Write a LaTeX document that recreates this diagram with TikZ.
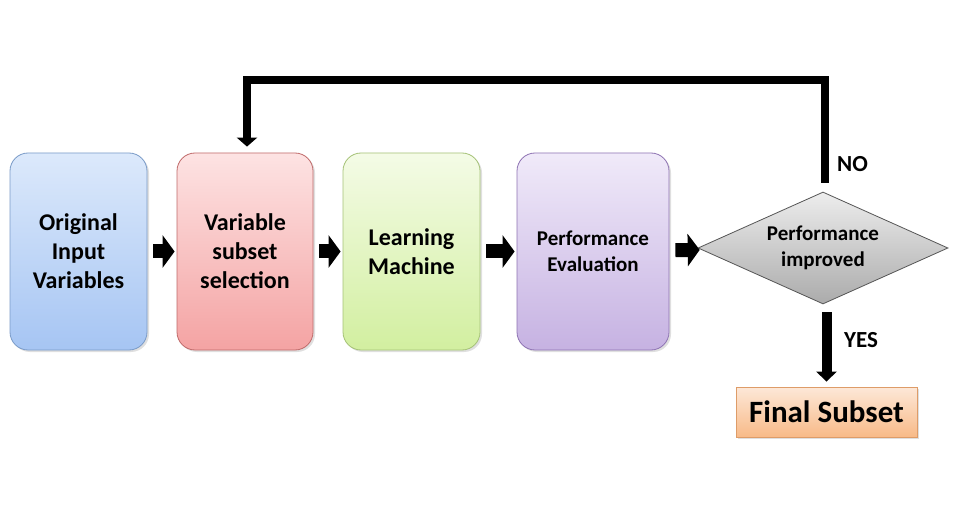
\documentclass[tikz,border=0pt]{standalone}
\usepackage{fontspec}
\setmainfont{Carlito}
\usetikzlibrary{arrows.meta,shapes.geometric,shadows}
\definecolor{b1t}{HTML}{DCE9FB}\definecolor{b1b}{HTML}{A6C5F3}\definecolor{b1d}{HTML}{7A9BC8}
\definecolor{b2t}{HTML}{FDE3E3}\definecolor{b2b}{HTML}{F4A3A3}\definecolor{b2d}{HTML}{C06A6A}
\definecolor{b3t}{HTML}{F4FBE6}\definecolor{b3b}{HTML}{D2EFA0}\definecolor{b3d}{HTML}{A5C277}
\definecolor{b4t}{HTML}{F0EAF9}\definecolor{b4b}{HTML}{C6B2E2}\definecolor{b4d}{HTML}{8E73B3}
\definecolor{dt}{HTML}{EDEDED}\definecolor{db}{HTML}{ABABAB}\definecolor{dd}{HTML}{555555}
\definecolor{ft}{HTML}{FDE8D8}\definecolor{fb}{HTML}{F8BA88}\definecolor{fd}{HTML}{DE9C68}
\begin{document}
\begin{tikzpicture}[x=1pt,y=-1pt]
\tikzset{
  procbox/.style={rounded corners=18pt, draw, line width=0.8pt, minimum height=197pt,
    align=center, inner sep=0pt, font=\bfseries\fontsize{24}{29}\selectfont,
    drop shadow={opacity=0.25, shadow xshift=2pt, shadow yshift=-2pt}},
  blk/.style={line width=14pt, -{Triangle[length=12pt,width=32pt]}, shorten <=6pt, shorten >=2pt},
  fbline/.style={line width=8pt, -{Triangle[length=9pt,width=20pt]}},
  lbl/.style={font=\bfseries\fontsize{23}{27}\selectfont, inner sep=0pt},
}
\useasboundingbox (0,0) rectangle (956,505);
\fill[white] (0,0) rectangle (956,505);
\node[procbox, minimum width=137pt, top color=b1t, bottom color=b1b, draw=b1d] (b1) at (78.5,251.5) {Original\\Input\\Variables};
\node[procbox, minimum width=136pt, top color=b2t, bottom color=b2b, draw=b2d] (b2) at (245,251.5) {Variable\\subset\\selection};
\node[procbox, minimum width=137pt, top color=b3t, bottom color=b3b, draw=b3d] (b3) at (411.5,251.5) {Learning\\Machine};
\node[procbox, minimum width=152pt, top color=b4t, bottom color=b4b, draw=b4d,
  font=\bfseries\fontsize{21}{26}\selectfont] (b4) at (593,251.5) {Performance\\Evaluation};
\node[diamond, minimum width=250pt, minimum height=112pt, aspect=2.23, inner sep=0pt,
  top color=dt, bottom color=db, draw=dd, line width=0.8pt, align=center,
  font=\bfseries\fontsize{21}{26}\selectfont] (dec) at (823,248) {Performance\\improved};
\node[draw=fd, line width=0.8pt, top color=ft, bottom color=fb, minimum width=181pt, minimum height=50pt,
  inner sep=0pt, font=\bfseries\fontsize{31}{35}\selectfont,
  drop shadow={opacity=0.25, shadow xshift=2pt, shadow yshift=-2pt}] (fin) at (826.5,412) {Final Subset};
\draw[blk] (b1) -- (b2);
\draw[blk] (b2) -- (b3);
\draw[blk] (b3) -- (b4);
\draw[blk] (b4) -- (dec);
\coordinate (c2) at (247,80);
\draw[fbline, shorten <=9pt, shorten >=6pt] ([xshift=2pt]dec.north) |- (c2) -- (b2.north -| c2);
\draw[line width=10pt, -{Triangle[length=10pt,width=20pt]}, shorten <=8pt, shorten >=5pt]
  (fin.north |- dec.south) -- (fin.north);
\node[lbl, anchor=west] (no) at (837,164) {NO};
\node[lbl, anchor=west] (yes) at (844,340) {YES};
\end{tikzpicture}
\end{document}
